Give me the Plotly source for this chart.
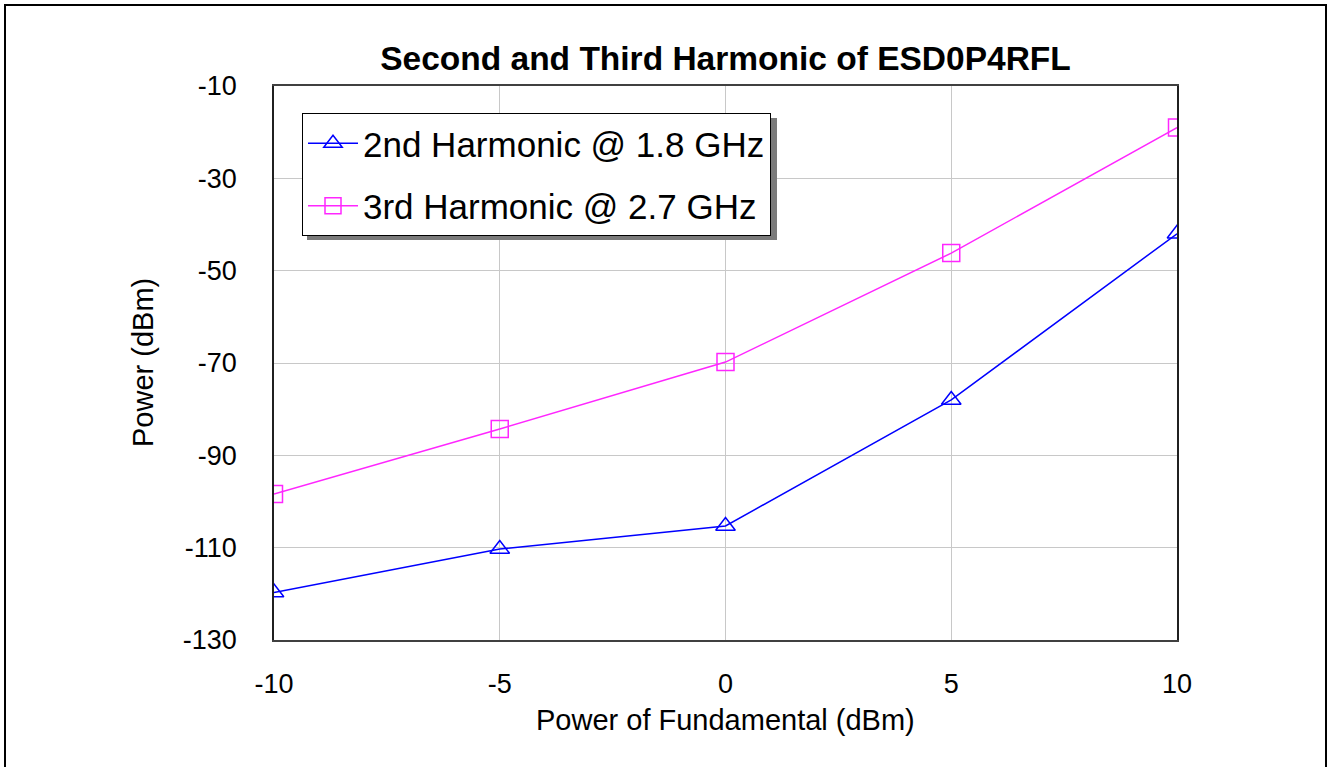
import plotly.graph_objects as go

# ---- data ----
fundamental_dbm = [-10, -5, 0, 5, 10]
harm2_dbm = [-119.7, -110.3, -105.3, -78.0, -42.0]
harm3_dbm = [-98.4, -84.3, -69.8, -46.2, -19.0]
series_names = ["2nd Harmonic @ 1.8 GHz", "3rd Harmonic @ 2.7 GHz"]
x_ticks = [-10, -5, 0, 5, 10]
y_ticks = [-10, -30, -50, -70, -90, -110, -130]
title_text = "Second and Third Harmonic of ESD0P4RFL"
x_title = "Power of Fundamental (dBm)"
y_title = "Power (dBm)"

FONT = "Arial, Liberation Sans, sans-serif"
W, H = 1330, 767
L, R, T, B = 274, 153, 86, 127
pw, ph = W - L - R, H - T - B

def px2paper_x(px):
    return (px - L) / pw

def px2paper_y(py):
    return (H - B - py) / ph

fig = go.Figure()
fig.add_trace(go.Scatter(
    x=fundamental_dbm, y=harm2_dbm, name=series_names[0], mode="lines+markers",
    line=dict(color="#0000ff", width=1.5),
    marker=dict(symbol="triangle-up-open", size=17, color="#0000ff", line=dict(width=1.5)),
    legendgroup="a",
))
fig.add_trace(go.Scatter(
    x=fundamental_dbm, y=harm3_dbm, name=series_names[1], mode="lines+markers",
    line=dict(color="#ff26ff", width=1.5),
    marker=dict(symbol="square-open", size=17, color="#ff26ff", line=dict(width=1.5)),
    legendgroup="b",
))

# legend shadow
lx0, ly0, lx1, ly1 = 302, 113, 772, 235
sh = 5
fig.add_shape(type="rect", xref="paper", yref="paper",
              x0=px2paper_x(lx0 + sh), x1=px2paper_x(lx1 + sh),
              y0=px2paper_y(ly1 + sh), y1=px2paper_y(ly0 + sh),
              fillcolor="#7a7a7a", line=dict(width=0), layer="above")
# outer frame
fig.add_shape(type="rect", xref="paper", yref="paper",
              x0=px2paper_x(5), x1=px2paper_x(1326),
              y0=px2paper_y(800), y1=px2paper_y(5),
              line=dict(color="black", width=2), fillcolor="rgba(0,0,0,0)", layer="above")

fig.update_layout(
    width=W, height=H,
    margin=dict(l=L, r=R, t=T, b=B),
    paper_bgcolor="white", plot_bgcolor="white",
    font=dict(family=FONT, color="black"),
    title=dict(text="<b>" + title_text + "</b>", x=px2paper_x(725.5), xref="paper",
               xanchor="center", y=1 - 58 / H, yanchor="middle",
               font=dict(size=33.5, family=FONT, color="black")),
    showlegend=True,
    legend=dict(x=px2paper_x(lx0), y=px2paper_y(ly0), xanchor="left", yanchor="top",
                bgcolor="white", bordercolor="black", borderwidth=1,
                font=dict(size=35, family=FONT, color="black"),
                itemwidth=50, tracegroupgap=14),
    annotations=[
        dict(text=x_title, xref="paper", yref="paper", x=0.5, y=px2paper_y(720),
             xanchor="center", yanchor="middle", showarrow=False,
             font=dict(size=29, family=FONT, color="black")),
        dict(text=y_title, xref="paper", yref="paper", x=px2paper_x(143), y=0.5,
             xanchor="center", yanchor="middle", showarrow=False, textangle=-90,
             font=dict(size=29, family=FONT, color="black")),
    ],
)
fig.update_xaxes(range=[-10, 10], tickvals=x_ticks, ticktext=[str(v) for v in x_ticks],
                 showgrid=True, gridcolor="#c8c8c8", gridwidth=1, zeroline=False,
                 showline=True, mirror=True, linecolor="#404040", linewidth=1.5,
                 ticks="", ticklabelstandoff=19,
                 tickfont=dict(size=27, family=FONT, color="black"))
fig.update_yaxes(range=[-130, -10], tickvals=y_ticks, ticktext=[str(v) for v in y_ticks],
                 showgrid=True, gridcolor="#c8c8c8", gridwidth=1, zeroline=False,
                 showline=True, mirror=True, linecolor="#202020", linewidth=1.5,
                 ticks="", ticklabelstandoff=30,
                 tickfont=dict(size=27, family=FONT, color="black"))

fig.write_html("out.html", config={"displayModeBar": False},
               post_script="document.body.style.margin='0';document.body.style.overflow='hidden';")
